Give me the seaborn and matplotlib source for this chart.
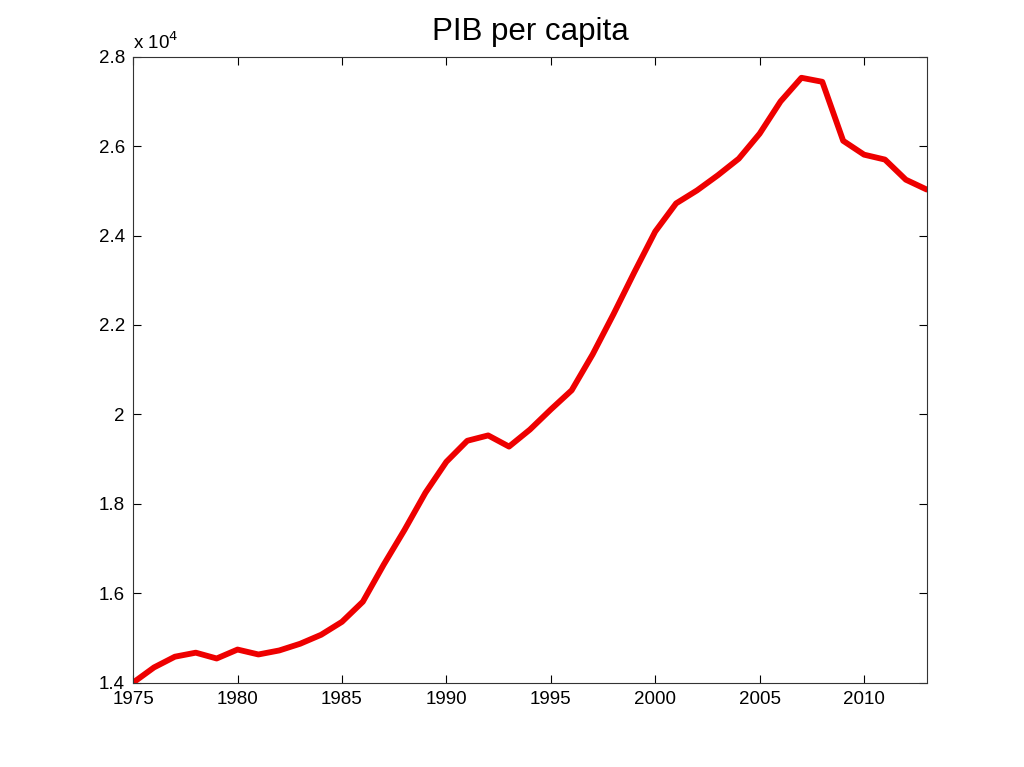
import numpy as np
import pandas as pd
import matplotlib
matplotlib.use("Agg")
import matplotlib.pyplot as plt
import matplotlib.ticker as mticker
import seaborn as sns

### DATA ###
years = list(range(1975, 2014))
pib = [14000, 14340, 14580, 14670, 14540, 14740, 14630, 14720, 14870, 15070,
       15360, 15810, 16640, 17420, 18250, 18940, 19410, 19530, 19280, 19660,
       20110, 20540, 21340, 22240, 23180, 24090, 24720, 25010, 25350, 25720,
       26280, 27000, 27530, 27440, 26120, 25810, 25700, 25250, 25030]

df = pd.DataFrame({"year": years, "pib": pib})

### STYLE ###
sns.set_style("ticks")
plt.rcParams['font.family'] = ['Liberation Sans', 'DejaVu Sans']

fig = plt.figure(figsize=(10.24, 7.67), dpi=100)
ax = fig.add_axes([0.13, 0.11, 0.775, 0.816])

sns.lineplot(data=df, x="year", y="pib", ax=ax, color="#ee0000", linewidth=4.2)

ax.set_xlim(1975, 2013)
ax.set_ylim(14000, 28000)
ax.set_xticks(range(1975, 2014, 5))
ax.set_yticks(range(14000, 28001, 2000))
ax.yaxis.set_major_formatter(mticker.FuncFormatter(lambda v, p: f"{v/1e4:g}"))
ax.tick_params(direction="in", top=True, right=True, length=6, width=0.8,
               labelsize=13.5, colors="black", pad=6)
for s in ax.spines.values():
    s.set_visible(True)
    s.set_linewidth(0.8)
    s.set_color("#333333")
ax.set_xlabel("")
ax.set_ylabel("")
ax.set_title("PIB per capita", fontsize=22.5, pad=12, color="black")
ax.text(0.0, 1.006, r"x 10$^4$", transform=ax.transAxes, fontsize=13.5,
        ha="left", va="bottom", color="black")

fig.savefig("out.png", dpi=100, facecolor="white")
